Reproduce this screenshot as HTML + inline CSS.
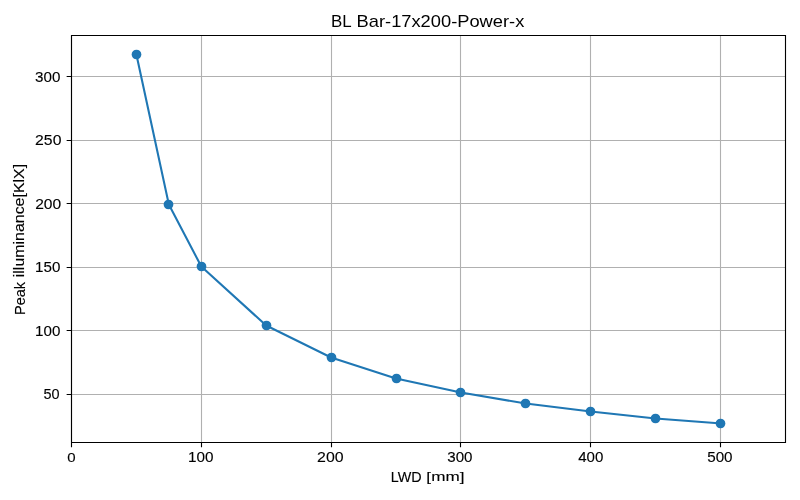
<!DOCTYPE html><html><head><meta charset="utf-8"><style>html,body{margin:0;padding:0;background:#fff;}body{width:800px;height:500px;overflow:hidden;}svg{display:block;}text{font-family:"Liberation Sans",sans-serif;fill:#000;}</style></head><body>
<svg width="800" height="500" viewBox="0 0 800 500">
<rect x="0" y="0" width="800" height="500" fill="#fff"/>
<path d="M71.5 35.5V442.5M201.5 35.5V442.5M331.5 35.5V442.5M460.5 35.5V442.5M590.5 35.5V442.5M720.5 35.5V442.5M71.5 76.5H785.5M71.5 140.5H785.5M71.5 203.5H785.5M71.5 267.5H785.5M71.5 330.5H785.5M71.5 394.5H785.5" stroke="#b0b0b0" stroke-width="1.11" fill="none"/>
<path d="M136.40 54.50 L168.85 204.50 L201.30 266.50 L266.20 325.50 L331.10 357.50 L396.00 378.50 L460.90 392.50 L525.80 403.50 L590.70 411.50 L655.60 418.50 L720.50 423.50" stroke="#1f77b4" stroke-width="2.08" fill="none" stroke-linejoin="round" stroke-linecap="square"/>
<circle cx="136.5" cy="54.5" r="4.86" fill="#1f77b4"/>
<circle cx="168.5" cy="204.5" r="4.86" fill="#1f77b4"/>
<circle cx="201.5" cy="266.5" r="4.86" fill="#1f77b4"/>
<circle cx="266.5" cy="325.5" r="4.86" fill="#1f77b4"/>
<circle cx="331.5" cy="357.5" r="4.86" fill="#1f77b4"/>
<circle cx="396.5" cy="378.5" r="4.86" fill="#1f77b4"/>
<circle cx="460.5" cy="392.5" r="4.86" fill="#1f77b4"/>
<circle cx="525.5" cy="403.5" r="4.86" fill="#1f77b4"/>
<circle cx="590.5" cy="411.5" r="4.86" fill="#1f77b4"/>
<circle cx="655.5" cy="418.5" r="4.86" fill="#1f77b4"/>
<circle cx="720.5" cy="423.5" r="4.86" fill="#1f77b4"/>
<path d="M71.5 442.5V35.5H785.5V442.5Z" fill="none" stroke="#000" stroke-width="1.11" stroke-linejoin="miter" stroke-linecap="square"/>
<path d="M71.5 442.5V447.36M201.5 442.5V447.36M331.5 442.5V447.36M460.5 442.5V447.36M590.5 442.5V447.36M720.5 442.5V447.36M71.5 76.5H66.64M71.5 140.5H66.64M71.5 203.5H66.64M71.5 267.5H66.64M71.5 330.5H66.64M71.5 394.5H66.64" stroke="#000" stroke-width="1.11" fill="none"/>
<g style="will-change:transform">
<text transform="translate(331.106 26.900) scale(1.0135 1.0435)" font-size="16.67" stroke="#000" stroke-width="0">BL</text>
<text transform="translate(356.590 26.772) scale(1.0984 1.0213)" font-size="16.67" stroke="#000" stroke-width="0">Bar-17x200-Power-x</text>
<text transform="translate(390.837 481.800) scale(1.0336 1.0286)" font-size="13.89" stroke="#000" stroke-width="0.12">LWD</text>
<text transform="translate(426.370 480.983) scale(1.2345 0.9800)" font-size="13.89" stroke="#000" stroke-width="0.12">[mm]</text>
<text transform="translate(24.639 314.976) scale(1.0458 1.0449) rotate(-90)" font-size="13.89" stroke="#000" stroke-width="0.12">Peak</text>
<text transform="translate(24.029 277.204) scale(0.9905 1.1479) rotate(-90)" font-size="13.89" stroke="#000" stroke-width="0.12">illuminance[KlX]</text>
<text transform="translate(67.259 461.578) scale(1.0815 0.9722)" font-size="13.89" stroke="#000" stroke-width="0.12">0</text>
<text transform="translate(188.099 461.676) scale(1.1006 0.9924)" font-size="13.89" stroke="#000" stroke-width="0.12">100</text>
<text transform="translate(317.084 461.872) scale(1.1455 1.0228)" font-size="13.89" stroke="#000" stroke-width="0.12">200</text>
<text transform="translate(447.255 461.775) scale(1.0893 1.0025)" font-size="13.89" stroke="#000" stroke-width="0.12">300</text>
<text transform="translate(578.228 461.872) scale(1.0860 1.0228)" font-size="13.89" stroke="#000" stroke-width="0.12">400</text>
<text transform="translate(707.202 461.775) scale(1.0960 1.0025)" font-size="13.89" stroke="#000" stroke-width="0.12">500</text>
<text transform="translate(35.053 81.773) scale(1.0938 1.0127)" font-size="13.89" stroke="#000" stroke-width="0.12">300</text>
<text transform="translate(35.090 144.872) scale(1.1364 1.0228)" font-size="13.89" stroke="#000" stroke-width="0.12">250</text>
<text transform="translate(35.198 208.776) scale(1.1227 0.9924)" font-size="13.89" stroke="#000" stroke-width="0.12">200</text>
<text transform="translate(35.109 271.872) scale(1.0913 1.0228)" font-size="13.89" stroke="#000" stroke-width="0.12">150</text>
<text transform="translate(35.109 335.773) scale(1.0913 1.0127)" font-size="13.89" stroke="#000" stroke-width="0.12">100</text>
<text transform="translate(43.439 398.723) scale(1.0414 1.0177)" font-size="13.89" stroke="#000" stroke-width="0.12">50</text>
</g>
</svg></body></html>
